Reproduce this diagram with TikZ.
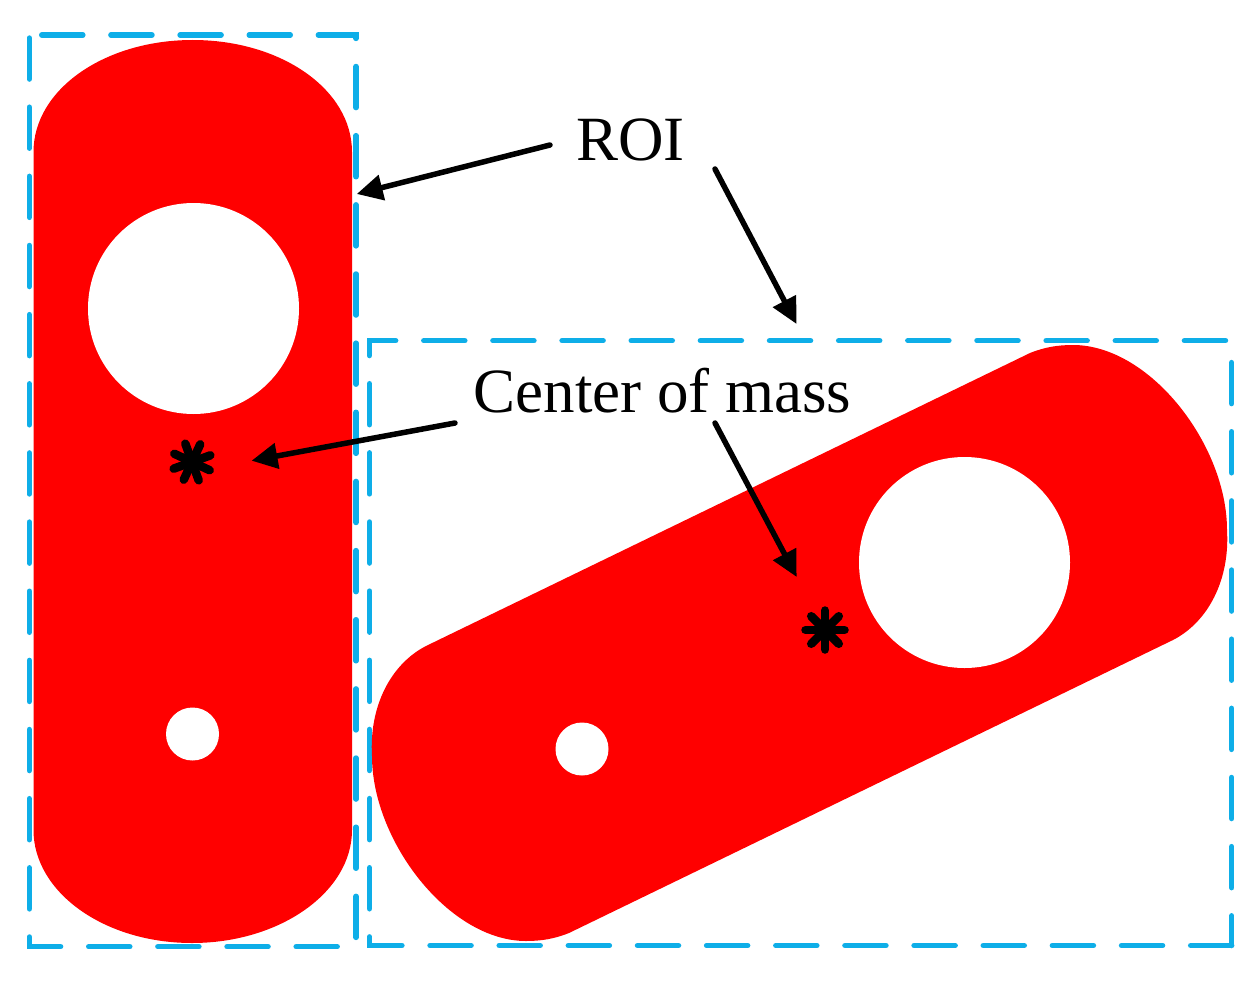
\documentclass[tikz,border=0pt]{standalone}
\usepackage{fontspec}
\setmainfont{Liberation Serif}
\usetikzlibrary{arrows.meta}
\definecolor{roiblue}{HTML}{0EAEE8}
\tikzset{
  x=1pt,y=-1pt,
  part/.style={fill=red,draw=none},
  hole/.style={fill=white,draw=none,circle,inner sep=0pt},
  roi/.style={draw=roiblue,line width=5.5pt,line cap=round,dash pattern=on 41pt off 28.15pt},
  lab/.style={font=\fontsize{63}{63}\selectfont,inner sep=0pt,text=black,anchor=base},
  arrowline/.style={draw=black,line width=5.5pt,line cap=round,-{Triangle[length=26pt,width=25pt]}},
  hub/.style={fill=black,draw=none,circle,inner sep=0pt,minimum size=22pt},
  spoke/.style={draw=black,line width=8.5pt,line cap=round},
}
\begin{document}
\begin{tikzpicture}
\useasboundingbox (0,0) rectangle (1255,982);
\fill[white] (0,0) rectangle (1255,982);
% ROI boxes
\draw[roi] (41.8,35) -- (356,35) -- (356,946.7) -- (29.3,946.7) -- (29.3,35);
\draw[roi] (1231.7,945.5) -- (369.5,945.5) -- (369.5,340.7) -- (1231.7,340.7) -- cycle;
% parts
\path[part] (33.5,152) .. controls (33.5,89.2) and (105,40) .. (192.7,40)
  .. controls (280.7,40) and (352,89.2) .. (352,152)
  -- (352,830) .. controls (352,892) and (280,943) .. (192,943)
  .. controls (104,943) and (33.5,892) .. (33.5,830) -- cycle;
\path[part] (1030,353) .. controls (1045,347) and (1058,345) .. (1073,345)
  .. controls (1150,345) and (1227,445) .. (1227,530)
  .. controls (1230,580) and (1208,622) .. (1173,640)
  -- (569,933) .. controls (554,939) and (541,941) .. (526,941)
  .. controls (449,941) and (372,841) .. (372,756)
  .. controls (369,706) and (391,664) .. (426,646) -- cycle;
\node[hole,minimum size=211pt] (h1) at (193.5,308.5) {};
\node[hole,minimum size=53pt] (h2) at (192.5,734) {};
\node[hole,minimum size=211pt] (h3) at (964.5,562.5) {};
\node[hole,minimum size=53pt] (h4) at (582,749) {};
% labels
\node[lab] (roi) at (630.5,160.7) {ROI};
\node[lab] (cm) at (662.5,412.7) {Center of mass};
% centres of mass
\node[hub] (m1) at (192,462) {};
\node[hub] (m2) at (825,630) {};
\foreach \a in {0,45,...,315}{
  \draw[spoke] (m1.center) -- ++(\a+20:19.5pt);
  \draw[spoke] (m2.center) -- ++(\a:19.5pt);
}
% arrow anchors
\coordinate (a1s) at (550,145);
\coordinate (a1e) at (356.7,194);
\coordinate (a2s) at (715,169);
\coordinate (a2e) at (796.5,324);
\coordinate (a3s) at (455,423);
\coordinate (a3e) at (251.5,460.7);
\coordinate (a4s) at (715,423);
\coordinate (a4e) at (796.7,577);
\draw[arrowline] (a1s) -- (a1e);
\draw[arrowline] (a2s) -- (a2e);
\draw[arrowline] (a3s) -- (a3e);
\draw[arrowline] (a4s) -- (a4e);
\end{tikzpicture}
\end{document}
